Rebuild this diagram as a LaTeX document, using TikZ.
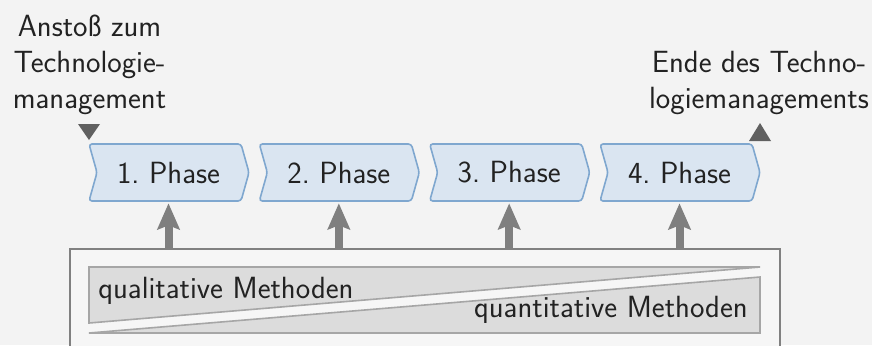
\documentclass[tikz,border=0pt]{standalone}
\usepackage{fontspec}
\usetikzlibrary{arrows.meta}
\definecolor{bg}{HTML}{F3F3F3}
\definecolor{ink}{HTML}{222222}
\definecolor{phasefill}{HTML}{DAE5F1}
\definecolor{phaseline}{HTML}{7FA7CF}
\definecolor{boxfill}{HTML}{F6F6F6}
\definecolor{boxline}{HTML}{808080}
\definecolor{wedgefill}{HTML}{DCDCDC}
\definecolor{wedgeline}{HTML}{A6A6A6}
\definecolor{arrowgray}{HTML}{7F7F7F}
\definecolor{marker}{HTML}{606060}
\begin{document}
\begin{tikzpicture}[x=0.025cm, y=-0.025cm,
  txt/.style={font=\sffamily\fontsize{21.8}{25.6}\selectfont, text=ink, inner sep=0pt},
  phaseshape/.style={fill=phasefill, draw=phaseline, line width=0.04cm, rounded corners=0.075cm},
  phaselabel/.style={txt, minimum width=3.6cm, minimum height=1.425cm},
  wedge/.style={fill=wedgefill, draw=wedgeline, line width=0.04cm},
  uparrow/.style={draw=arrowgray, line width=0.2cm, shorten >=0.05cm,
    -{Stealth[length=0.65cm, width=0.55cm, inset=0.1cm]}},
  markerfill/.style={fill=marker}]
  % canvas
  \fill[bg] (0,0) rectangle (872,345);
  \useasboundingbox (0,0) rectangle (872,345);
  \clip (0,0) rectangle (872,345);

  % start and end labels
  \node[txt, align=center, anchor=north] (start) at (89.5,15)
    {Anstoß zum\\Technologie-\\management};
  \node[txt, align=center, anchor=north] (finish) at (759,51)
    {Ende des Techno-\\logiemanagements};
  \fill[markerfill] (78,124) -- (100,124) -- (89,140) -- cycle;
  \fill[markerfill] (749,141) -- (771,141) -- (760,123) -- cycle;

  % phase chevrons
  \foreach \i/\L in {1/89, 2/259.33, 3/429.67, 4/600} {
    \draw[phaseshape] (\L,144) -- ++(152,0) -- ++(8,28.5) -- ++(-8,28.5)
      -- ++(-152,0) -- ++(8,-28.5) -- cycle;
    \node[phaselabel] (ph\i) at (\L+79.5,172.5) {\i.~Phase};
  }

  % method box
  \node[draw=boxline, fill=boxfill, line width=0.05cm, minimum width=17.75cm,
    minimum height=2.8cm, inner sep=0pt, anchor=north west] (methods) at (69,248) {};
  \draw[wedge] (89,267) -- (760,267) -- (89,323) -- cycle;
  \draw[wedge] (89,333) -- (760,277) -- (760,333) -- cycle;
  \node[txt, anchor=base west] (qual) at (98,298) {qualitative Methoden};
  \node[txt, anchor=base east] (quant) at (748,317) {quantitative Methoden};

  % arrows from the methods into each phase
  \foreach \i in {1,...,4}
    \draw[uparrow] (methods.north -| ph\i.south) -- (ph\i.south);
\end{tikzpicture}
\end{document}
